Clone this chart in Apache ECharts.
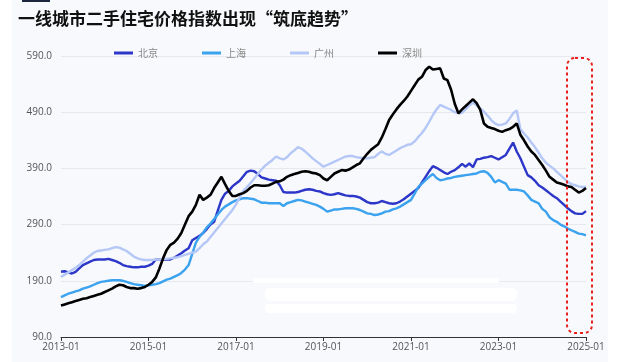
<!DOCTYPE html>
<html><head><meta charset="utf-8">
<script src="https://cdn.jsdelivr.net/npm/echarts@6/dist/echarts.min.js"></script>
<style>html,body{margin:0;padding:0;background:#fff}#c{width:640px;height:362px}</style>
</head><body><div id="c"></div>
<script>
const title = '一线城市二手住宅价格指数出现“筑底趋势”';
const seriesNames = ['北京', '上海', '广州', '深圳'];
const yTicks = [90, 190, 290, 390, 490, 590];

const beijing = [
206,207,205,203,206,212,218,221,224,227,228,228,
228,229,227,225,222,218,216,215,214,214,215,215,
217,220,228,228,228,228,228,231,235,239,244,248,
262,266,270,275,282,290,295,315,334,345,350,358,
363,368,376,384,386,385,380,374,372,370,369,368,
360,348,347,347,347,348,350,352,353,352,350,349,
346,344,343,344,346,344,342,341,341,340,338,334,
330,328,328,329,332,330,328,327,328,331,335,340,
345,350,355,365,375,385,394,391,387,383,380,384,
387,392,398,393,399,392,406,407,409,410,412,409,
406,410,414,425,436,420,408,393,378,374,368,360,
356,351,346,341,337,331,325,319,314,310,309,309,
314];
const shanghai = [
161,164,167,169,171,173,176,178,180,183,186,188,
189,190,191,191,191,190,188,186,184,183,182,181,
182,183,184,186,189,192,194,197,200,204,210,218,
238,258,268,276,285,292,300,308,316,322,326,330,
333,335,337,337,336,335,332,329,329,328,328,328,
328,323,328,330,332,334,333,331,329,327,325,322,
318,313,315,317,317,318,319,319,319,318,316,313,
310,309,307,308,310,313,314,317,319,322,326,330,
334,345,357,363,369,375,380,373,369,370,372,373,
375,376,377,378,379,380,381,384,385,382,375,365,
369,366,363,352,352,352,351,349,342,334,331,328,
318,313,303,298,295,290,287,283,280,277,274,273,
271];
const guangzhou = [
197,201,205,209,213,218,224,230,235,240,243,244,
245,246,248,250,249,246,243,238,233,230,228,227,
227,227,228,228,229,229,230,231,232,234,236,238,
240,242,248,255,260,268,276,284,292,300,308,316,
326,338,350,357,364,372,380,388,395,400,405,411,
408,406,410,417,422,428,425,420,414,408,403,398,
393,396,399,402,405,408,411,412,412,410,409,408,
408,409,410,416,420,416,414,418,422,426,429,432,
433,438,446,453,462,473,485,495,503,500,497,494,
490,488,489,495,502,507,502,497,491,484,476,470,
467,468,470,478,488,493,460,452,445,436,428,418,
408,400,395,390,384,378,372,366,362,360,358,357,
357];
const shenzhen = [
146,148,150,152,154,156,158,159,161,163,165,167,
170,173,176,180,183,182,179,177,177,176,177,179,
183,188,196,212,230,245,254,258,265,275,290,305,
313,325,343,334,338,343,355,365,375,362,350,341,
341,344,346,350,356,360,360,359,359,360,363,366,
367,370,375,378,380,382,384,385,384,382,381,378,
372,369,375,381,384,387,386,388,392,396,399,408,
416,423,428,433,445,460,476,486,495,503,510,518,
528,538,548,553,565,571,566,567,568,550,547,530,
505,488,495,501,507,513,506,494,470,464,462,460,
457,455,458,460,464,470,450,440,429,420,414,405,
396,386,375,370,365,363,361,358,357,352,347,350,
355];

const months = [];
for (let y = 2013; y <= 2025; y++) {
  for (let m = 1; m <= 12; m++) {
    if (y === 2025 && m > 1) break;
    months.push(y + '-' + String(m).padStart(2, '0'));
  }
}

const colors = ['#2c36c8', '#3aa2ee', '#b4c7f6', '#000000'];
const dataList = [beijing, shanghai, guangzhou, shenzhen];

const chart = echarts.init(document.getElementById('c'));
chart.setOption({
  animation: false,
  backgroundColor: '#ffffff',
  graphic: [
    {type: 'rect', z: -10, shape: {x: 12, y: 0, width: 596, height: 362}, style: {fill: '#f8f9fc'}},
    {type: 'rect', z: -5, shape: {x: 22, y: 0, width: 28, height: 2}, style: {fill: '#1e2740'}},
    {type: 'text', left: 18, top: 10, style: {text: title, font: 'bold 17px "Noto Sans CJK SC"', fill: '#111'}},
    {type: 'rect', z: 100, shape: {x: 567, y: 58, width: 25, height: 275, r: 8},
      style: {fill: 'none', stroke: '#e8201c', lineWidth: 2, lineDash: [3, 3]}},
    {type: 'rect', z: 90, shape: {x: 253, y: 278, width: 246, height: 5, r: 2}, style: {fill: '#ffffff'}},
    {type: 'rect', z: 90, shape: {x: 265, y: 288, width: 252, height: 13, r: 5}, style: {fill: '#ffffff'}},
    {type: 'rect', z: 90, shape: {x: 265, y: 304, width: 252, height: 9, r: 4}, style: {fill: '#ffffff'}}
  ],
  legend: {
    data: seriesNames, left: 109, top: 43, icon: 'rect', itemWidth: 19, itemHeight: 3, itemGap: 44,
    textStyle: {fontSize: 10, color: '#888', fontFamily: '"Noto Sans CJK SC"'}
  },
  grid: {left: 61, right: 54, top: 56, bottom: 25},
  xAxis: {
    type: 'category', data: months, boundaryGap: false,
    axisLine: {lineStyle: {color: '#333', width: 1}},
    axisTick: {interval: 23, length: 4, lineStyle: {color: '#333'}},
    axisLabel: {interval: 23, color: '#555', fontSize: 10, margin: 5, fontFamily: 'Open Sans'},
    splitLine: {show: false}
  },
  yAxis: {
    type: 'value', min: 90, max: 590, interval: 100,
    axisLine: {show: false}, axisTick: {show: false},
    axisLabel: {formatter: v => v.toFixed(1), color: '#555', fontSize: 10, margin: 9, fontFamily: 'Open Sans'},
    splitLine: {lineStyle: {color: '#e6e8ee', width: 1}}
  },
  series: seriesNames.map((n, i) => ({
    name: n, type: 'line', data: dataList[i], showSymbol: false, symbol: 'none',
    lineStyle: {color: colors[i], width: i === 3 ? 2.6 : 2.4},
    itemStyle: {color: colors[i]}, z: i === 3 ? 5 : 3
  }))
});
</script></body></html>
